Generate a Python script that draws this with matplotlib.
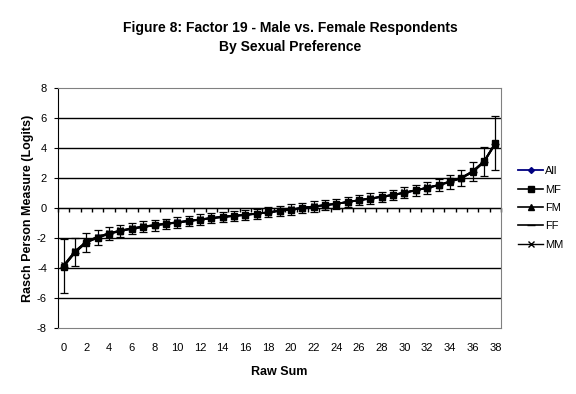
import matplotlib
matplotlib.use("Agg")
import matplotlib.pyplot as plt
import numpy as np

plt.rcParams["font.family"] = ["Liberation Sans", "DejaVu Sans"]
plt.rcParams["axes.unicode_minus"] = False

raw_sum = list(range(39))

measure_all = [-3.87, -2.93, -2.27, -1.95, -1.70, -1.52, -1.37, -1.25, -1.15, -1.05,
               -0.96, -0.86, -0.77, -0.67, -0.59, -0.52, -0.46, -0.38, -0.29, -0.19,
               -0.10, 0.00, 0.10, 0.19, 0.28, 0.40, 0.52, 0.63, 0.75, 0.87,
               1.02, 1.18, 1.35, 1.52, 1.75, 2.00, 2.42, 3.09, 4.31]
measure_mf = [-3.90, -2.96, -2.30, -1.97, -1.72, -1.53, -1.38, -1.26, -1.16, -1.06,
              -0.97, -0.87, -0.78, -0.68, -0.60, -0.53, -0.46, -0.38, -0.29, -0.19,
              -0.10, 0.00, 0.10, 0.19, 0.28, 0.40, 0.52, 0.63, 0.75, 0.88,
              1.03, 1.19, 1.36, 1.54, 1.77, 2.02, 2.45, 3.12, 4.33]
measure_fm = [-3.82, -2.88, -2.23, -1.92, -1.68, -1.50, -1.35, -1.23, -1.13, -1.03,
              -0.95, -0.85, -0.76, -0.66, -0.58, -0.51, -0.45, -0.37, -0.28, -0.18,
              -0.09, 0.01, 0.11, 0.20, 0.29, 0.41, 0.53, 0.64, 0.76, 0.88,
              1.02, 1.18, 1.34, 1.51, 1.73, 1.98, 2.38, 3.04, 4.26]
measure_ff = [-3.92, -2.98, -2.31, -1.98, -1.73, -1.54, -1.39, -1.27, -1.17, -1.07,
              -0.98, -0.88, -0.79, -0.69, -0.61, -0.53, -0.47, -0.39, -0.30, -0.20,
              -0.11, -0.01, 0.09, 0.18, 0.27, 0.39, 0.51, 0.62, 0.74, 0.86,
              1.01, 1.17, 1.34, 1.51, 1.74, 1.99, 2.40, 3.07, 4.29]
measure_mm = [-3.80, -2.86, -2.22, -1.91, -1.67, -1.49, -1.35, -1.23, -1.13, -1.03,
              -0.94, -0.84, -0.75, -0.66, -0.58, -0.51, -0.45, -0.37, -0.28, -0.18,
              -0.09, 0.01, 0.11, 0.20, 0.29, 0.41, 0.53, 0.64, 0.76, 0.89,
              1.04, 1.20, 1.37, 1.55, 1.78, 2.03, 2.46, 3.13, 4.35]
error_all = [1.80, 0.93, 0.63, 0.50, 0.44, 0.41, 0.39, 0.37, 0.36, 0.35,
             0.35, 0.34, 0.34, 0.34, 0.34, 0.34, 0.34, 0.34, 0.34, 0.34,
             0.34, 0.34, 0.34, 0.34, 0.34, 0.34, 0.34, 0.34, 0.35, 0.35,
             0.36, 0.37, 0.39, 0.41, 0.45, 0.52, 0.65, 0.95, 1.80]

x_labels = [str(v) for v in range(0, 39, 2)]

fig = plt.figure(figsize=(5.76, 3.94), dpi=100)
ax = fig.add_axes([58 / 576, 1 - 328 / 394, (501 - 58) / 576, (328 - 88) / 394])

ax.errorbar(raw_sum, measure_all, yerr=error_all, fmt="none", ecolor="black",
            elinewidth=0.9, capsize=3, capthick=0.9, zorder=3)
ax.plot(raw_sum, measure_all, color="#000080", lw=1.3, marker="D", ms=3, label="All", zorder=4)
ax.plot(raw_sum, measure_fm, color="black", lw=1.2, marker="^", ms=5, label="FM", zorder=5)
ax.plot(raw_sum, measure_ff, color="black", lw=1.2, marker="_", ms=6, label="FF", zorder=5)
ax.plot(raw_sum, measure_mm, color="black", lw=1.0, marker="x", ms=4, label="MM", zorder=5)
ax.plot(raw_sum, measure_mf, color="black", lw=1.2, marker="s", ms=5, label="MF", zorder=6)

ax.set_xlim(-0.5, 38.5)
ax.set_ylim(-8, 8)
ax.set_yticks(range(-8, 9, 2))
ax.set_xticks(range(0, 39, 2))
ax.set_xticklabels(x_labels)
ax.tick_params(axis="x", length=0, labelsize=8, pad=11)
ax.tick_params(axis="y", length=3, direction="out", labelsize=8, pad=5)

for yv in [-6, -4, -2, 2, 4, 6]:
    ax.axhline(yv, color="black", lw=1.0, zorder=1)
ax.axhline(0, color="black", lw=1.0, zorder=2)

for side in ["top", "right", "bottom"]:
    ax.spines[side].set_color("#808080")
ax.spines["left"].set_color("black")

# category-boundary ticks hanging below the zero line
sec = ax.secondary_xaxis(0.5)
sec.set_alignment("bottom")
sec.set_xticks(np.arange(-0.5, 39, 1.0))
sec.xaxis.set_ticklabels([])
sec.tick_params(axis="x", direction="out", length=3, width=1.0, color="black")
sec.spines["bottom"].set_color("black")

ax.set_xlabel("Raw Sum", fontsize=9, fontweight="bold", labelpad=9)
ax.set_ylabel("Rasch Person Measure (Logits)", fontsize=9, fontweight="bold", labelpad=2)

fig.text(290 / 576, 1 - 28 / 394, "Figure 8: Factor 19 - Male vs. Female Respondents",
         ha="center", va="center", fontsize=10, fontweight="bold")
fig.text(290 / 576, 1 - 47 / 394, "By Sexual Preference",
         ha="center", va="center", fontsize=10, fontweight="bold")

handles, labels = ax.get_legend_handles_labels()
order = [labels.index(n) for n in ["All", "MF", "FM", "FF", "MM"]]
fig.legend([handles[i] for i in order], [labels[i] for i in order],
           loc="center left", bbox_to_anchor=(514 / 576, 1 - 208 / 394),
           frameon=False, fontsize=8, handlelength=2.2, handletextpad=0.2,
           labelspacing=0.75, borderaxespad=0)

fig.savefig("out.png", dpi=100)
